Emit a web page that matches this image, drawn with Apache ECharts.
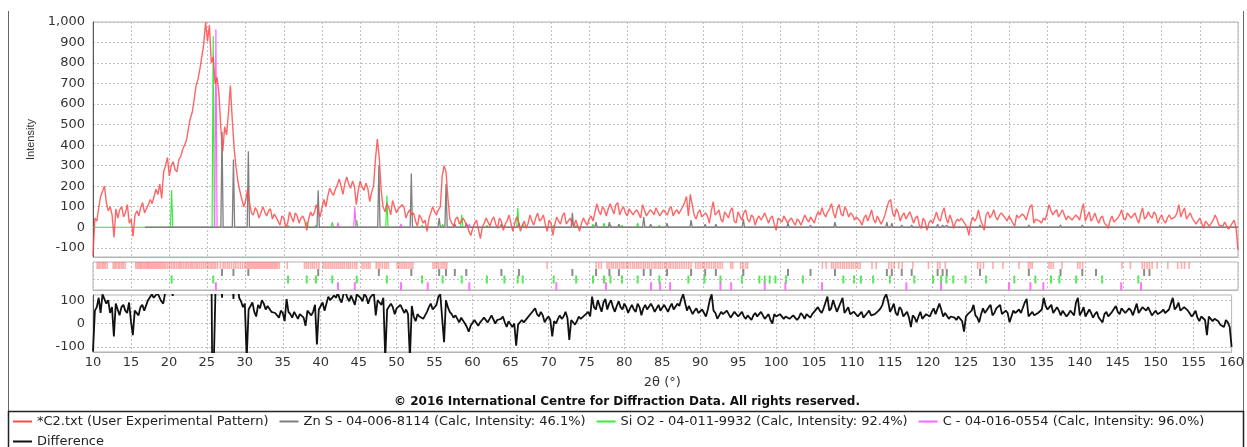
<!DOCTYPE html>
<html>
<head>
<meta charset="utf-8">
<title>C2 diffraction pattern</title>
<script src="https://cdn.jsdelivr.net/npm/echarts@6/dist/echarts.min.js"></script>
<style>
  html, body { margin: 0; padding: 0; background: #fff; }
  #chart { width: 1247px; height: 447px; }
</style>
</head>
<body>
<div id="chart"></div>
<script>
// observed pattern, 2θ from 10 to 160 in 0.25° steps
const twoThetaStart = 10;
const twoThetaStep = 0.25;
const observed = [
  -140,45,30,95,150,175,200,120,80,100,60,-50,90,45,85,100,50,70,110,20,       // 10
  40,-45,60,80,55,95,120,70,90,110,135,115,150,185,160,210,140,270,300,340,    // 15
  250,300,320,280,270,330,345,380,400,425,480,530,560,620,690,720,770,830,890,1000, // 20
  905,985,800,830,700,730,650,480,370,490,450,560,690,520,380,290,220,175,135,100, // 25
  130,185,120,70,60,95,80,45,70,100,75,55,80,90,40,65,70,30,10,55,             // 30
  45,0,20,75,50,25,70,55,20,45,55,30,-15,40,75,55,70,110,80,50,                // 35
  95,135,100,150,190,170,155,185,205,235,200,160,215,245,210,190,225,200,110,180, // 40
  225,195,180,215,190,125,170,200,330,430,340,180,100,75,115,95,60,130,100,70, // 45
  90,85,110,95,45,70,85,60,70,30,5,60,45,20,35,-20,40,70,100,75,               // 50
  60,85,100,250,300,270,140,40,20,5,40,50,15,30,45,25,10,-20,-40,-5,           // 55
  20,35,-10,-55,0,20,45,25,5,35,50,15,-5,45,30,-15,15,30,60,20,                // 60
  -20,20,50,25,-20,10,30,-5,20,60,30,10,45,70,30,40,60,15,-20,35,              // 65
  20,-40,15,50,30,15,55,70,15,30,45,20,5,35,40,-20,20,45,25,10,                // 70
  40,55,30,70,115,80,60,100,85,55,90,115,90,65,110,120,60,85,100,70,           // 75
  55,90,95,60,75,85,65,45,110,115,55,70,85,75,60,95,100,55,70,85,              // 80
  70,60,90,100,55,75,85,65,60,100,120,150,55,160,110,60,40,70,85,50,           // 85
  45,70,55,20,80,125,60,70,85,40,25,75,60,45,80,95,30,20,75,55,                // 90
  35,70,85,40,25,60,50,10,40,55,35,50,70,45,20,45,55,15,-15,45,                // 95
  35,25,55,50,20,35,45,25,10,40,30,10,35,60,40,25,50,45,20,55,                 // 100
  75,60,95,65,50,75,90,115,70,45,90,110,65,55,100,80,50,70,60,35,              // 105
  50,45,30,10,45,60,30,55,85,40,20,55,60,15,35,60,95,125,135,70,               // 110
  50,90,70,30,55,70,40,35,75,50,20,45,55,10,-5,45,30,-15,20,35,                // 115
  20,45,75,40,30,70,95,45,20,60,35,-5,25,40,30,45,30,15,0,-40,                 // 120
  20,50,30,45,85,40,15,-15,60,75,45,60,85,50,35,60,70,75,45,30,                // 125
  55,60,20,5,60,45,45,65,55,35,70,100,110,20,40,45,30,20,45,35,                // 130
  70,110,80,60,75,85,50,45,85,60,35,55,60,35,30,60,50,35,80,115,               // 135
  30,55,75,30,45,70,40,20,45,55,20,10,-5,35,55,25,35,45,60,85,                 // 140
  45,35,70,75,45,50,70,40,20,65,95,40,50,75,55,45,75,60,20,45,                 // 145
  60,35,20,45,60,40,35,50,70,110,50,75,95,40,55,70,45,40,15,30,                // 150
  45,20,-5,30,25,5,20,35,60,40,10,15,5,25,30,-10,-15,20,35,-5,                 // 155
  -110
];

// difference curve, same 2θ steps
const difference = [
  -120,55,70,110,45,125,130,85,100,45,70,-55,85,60,35,70,80,55,45,90,
  10,-50,55,60,35,70,80,55,60,100,95,125,110,105,130,125,95,85,130,140,
  160,190,118,210,220,260,300,330,360,400,440,480,520,560,600,650,700,760,820,900,
  850,900,700,-400,-400,300,500,300,110,400,420,500,600,300,105,250,200,110,95,70,
  85,-150,60,75,90,50,30,80,65,100,85,60,75,80,50,55,45,40,25,55,
  45,10,105,50,40,25,50,45,20,40,45,25,-10,55,60,35,50,80,-90,60,
  75,90,55,50,115,100,95,120,110,130,105,90,125,135,110,95,120,100,80,125,
  130,110,95,125,115,85,110,120,130,35,100,90,80,110,-150,60,55,85,70,40,
  65,70,80,85,45,60,40,-150,75,30,10,40,30,35,20,15,50,70,85,60,
  55,80,115,125,130,-80,100,70,50,40,25,35,20,5,25,20,0,-15,-35,-10,
  -5,15,10,-10,5,15,25,30,5,10,35,30,0,15,10,20,30,5,-15,10,
  5,-15,0,-95,-5,-10,15,5,0,25,30,45,50,65,40,30,50,35,5,20,
  30,15,-55,10,0,20,35,20,30,50,25,-70,15,20,-5,10,30,20,25,35,
  40,50,30,115,70,60,100,75,50,90,105,60,85,100,70,50,75,95,70,60,
  85,70,45,65,80,60,50,85,70,35,65,80,60,55,85,70,50,65,80,55,
  60,80,65,50,70,85,60,65,85,75,105,125,90,55,75,70,40,55,65,45,
  40,60,55,30,60,100,125,55,45,20,25,50,40,35,55,60,25,20,50,45,
  30,40,50,30,20,35,30,15,35,45,30,40,50,35,20,30,40,15,0,40,
  30,25,40,45,20,30,35,20,15,35,30,15,25,45,35,20,40,35,25,40,
  50,45,70,55,45,65,90,115,55,65,100,75,50,70,90,110,45,50,70,40,
  35,50,55,30,40,50,25,20,45,55,35,30,40,35,55,65,80,110,125,95,
  50,65,85,45,35,70,60,30,40,50,25,-15,35,25,5,30,50,20,15,40,
  35,30,50,65,40,35,85,60,30,45,50,20,30,35,25,15,30,35,10,-35,
  30,40,45,55,80,35,25,5,40,65,45,50,70,80,35,45,65,60,80,40,
  35,55,45,5,30,55,45,40,60,45,40,90,105,30,40,50,35,30,45,40,
  60,110,75,60,70,80,45,50,70,55,35,55,50,30,40,55,45,35,90,110,
  35,50,70,30,45,60,45,25,40,50,25,15,5,40,50,30,30,50,45,75,
  50,40,65,70,45,50,65,55,35,60,85,45,50,70,75,55,70,75,35,45,
  55,40,35,50,60,45,50,60,65,110,60,70,90,55,50,70,75,55,50,30,
  40,55,25,10,30,35,15,-50,30,20,10,20,20,10,-5,-10,-15,15,5,-15,
  -100
];

// reference phases: peak positions (2θ) and calculated heights
const znsPeaks = [26.9, 28.4, 30.35, 39.5, 47.45, 51.7, 55.35, 56.25, 57.4, 58.9, 63.5, 65.8, 72.8, 75.9,
  77.65, 78.9, 82.15, 83.05, 85.2, 88.35, 90.2, 91.6, 95.2, 101.05, 104.0, 107.2, 114.0, 114.65, 115.95,
  117.25, 120.65, 121.3, 121.85, 126.2, 132.6, 136.75, 139.6, 141.4, 147.7, 148.4];
const znsHeights = [465, 330, 370, 180, 300, 262, 45, 210, 15, 20, 15, 20, 70, 25,
  25, 15, 50, 15, 20, 35, 15, 15, 40, 20, 10, 25, 25, 20, 10,
  10, 15, 10, 10, 10, 10, 10, 10, 5, 8, 5];

const sio2Peaks = [20.3, 25.75, 35.55, 38.0, 39.2, 41.35, 44.55, 48.5, 53.1, 55.8, 58.3, 61.6, 63.9, 65.65,
  66.3, 70.35, 73.3, 75.5, 76.95, 77.8, 79.3, 81.35, 84.2, 88.0, 90.1, 92.2, 95.0, 97.3, 98.0, 98.65,
  99.4, 100.8, 103.0, 108.3, 109.7, 110.6, 112.2, 114.4, 117.6, 120.05, 121.1, 121.8, 122.7, 124.3,
  127.0, 130.7, 133.45, 135.5, 136.6, 138.8, 142.2, 146.95];
const sio2Heights = [180, 930, 10, 27, 10, 25, 35, 155, 10, 15, 60, 10, 10, 95,
  15, 10, 10, 15, 20, 10, 10, 20, 10, 8, 8, 6, 8, 6, 5, 6,
  5, 6, 5, 6, 5, 5, 6, 8, 5, 5, 5, 6, 5, 5,
  5, 5, 5, 5, 4, 4, 4, 4];

const carbonPeaks = [26.1, 42.1, 44.3, 50.35, 53.85, 59.3, 70.7, 77.2, 83.1, 84.3, 85.6, 92.2, 93.6, 98.0,
  100.7, 105.5, 116.55, 121.1, 130.0, 132.8, 134.5, 144.7, 147.3];
const carbonHeights = [965, 22, 100, 16, 5, 16, 5, 5, 10, 5, 5, 5, 5, 5,
  8, 5, 8, 5, 4, 4, 4, 3, 3];

// peaks found in the experimental pattern (top row of the tick strip)
const observedTicks = [10.55, 10.75, 10.95, 11.2, 11.4, 11.6, 11.85,
  12.65, 12.85, 13.05, 13.3, 13.5, 13.75, 13.95, 14.2,
  15.6, 15.8, 16.0, 16.2, 16.35, 16.55, 16.75, 16.95, 17.15, 17.3, 17.5, 17.7, 17.9, 18.1, 18.3, 18.5,
  18.7, 18.9, 19.1, 19.3, 19.5, 19.75, 20.0, 20.25, 20.5, 20.7, 20.95, 21.2, 21.4, 21.6, 21.85, 22.1,
  22.3, 22.55, 22.8, 23.0, 23.25, 23.5, 23.7, 23.95, 24.2, 24.45, 24.7, 24.95, 25.15, 25.4, 25.6, 25.85,
  26.05, 26.3,
  26.7, 27.05, 27.3, 27.6, 27.85, 28.15, 28.45, 28.7, 29.0, 29.3, 29.6, 29.9, 30.15, 30.35, 30.55, 30.75,
  30.95, 31.15, 31.35, 31.55, 31.75, 31.95, 32.15, 32.35, 32.55, 32.75, 32.95, 33.15, 33.35, 33.55, 33.75,
  33.95, 34.15, 34.4,
  35.45,
  37.7, 37.95, 38.2, 38.5, 38.75, 39.0, 39.3, 39.6,
  40.15, 40.4, 40.65, 40.9, 41.15, 41.4, 41.65, 41.9, 42.15, 42.4, 42.65, 42.9, 43.2, 43.45, 43.7, 44.0,
  44.3, 44.55,
  45.25, 45.5, 45.8, 46.05, 46.3, 47.1, 47.35, 47.6, 47.9, 48.2, 48.45, 48.7,
  49.85, 50.1, 50.35, 50.6, 50.85, 51.1, 51.4, 51.65, 51.9,
  54.55, 54.8, 55.05, 55.3, 55.6, 55.85, 56.1, 56.35,
  69.5, 75.9, 76.25, 76.6,
  77.35, 77.6, 77.9, 78.15, 78.45, 78.7, 79.0, 79.3, 79.55, 79.85, 80.1, 80.4, 80.7, 80.95, 81.25, 81.5,
  81.8, 82.1, 82.35, 82.65, 82.9, 83.2, 83.5, 83.75, 84.05, 84.3, 84.6, 84.9, 85.15, 85.45, 85.7, 86.0,
  86.3, 86.55, 86.85, 87.15, 87.45, 87.75, 88.05, 88.35, 88.95, 89.25, 89.55, 89.85, 90.1, 90.4, 90.7,
  91.0, 91.3, 91.55, 91.85, 92.15, 92.45,
  93.55, 93.8, 94.85, 95.15, 95.5, 95.75,
  105.55, 106.05, 106.75, 107.0, 107.3, 107.6, 107.9, 108.2, 108.45, 108.75, 109.05, 109.35, 109.6,
  109.9, 110.2, 110.5,
  112.05, 112.6, 114.25, 114.6, 114.95, 115.55, 116.0,
  117.4, 119.45, 120.65, 120.95, 121.65,
  125.9, 126.25, 126.65, 127.9, 129.2, 131.3, 132.55, 132.8, 133.05, 135.25, 135.5, 135.8, 136.95,
  139.0, 139.3, 139.65, 144.8, 145.9, 147.45, 147.75, 148.1, 148.4, 148.75, 149.4, 150.8, 152.1,
  152.6, 153.0, 153.6];

const intensityTicks = [-100, 0, 100, 200, 300, 400, 500, 600, 700, 800, 900, 1000];
const differenceTicks = [-100, 0, 100];

const obsName = '*C2.txt (User Experimental Pattern)';
const znsName = 'Zn S - 04-006-8114 (Calc, Intensity: 46.1%)';
const sio2Name = 'Si O2 - 04-011-9932 (Calc, Intensity: 92.4%)';
const carbonName = 'C - 04-016-0554 (Calc, Intensity: 96.0%)';
const diffName = 'Difference';

const RED = '#ff4a4a';
const GRAY = '#7f7f7f';
const GREEN = '#3fe83f';
const PINK = '#ff66ff';
const GRIDLINE = '#c0c0c0';
const FRAME = '#b4b4b4';

// narrow triangle per peak on a zero baseline
function profile(peaks, heights, start) {
  const d = [[start, 0]];
  peaks.forEach((p, i) => {
    d.push([p - 0.15, 0], [p, heights[i]], [p + 0.15, 0]);
  });
  d.push([160, 0]);
  return d;
}

function onGrid(values) {
  return values.map((v, i) => [twoThetaStart + i * twoThetaStep, v]);
}

function labelFont() {
  return { fontFamily: 'DejaVu Sans', fontSize: 13, color: '#333' };
}

function dashed() {
  return { show: true, lineStyle: { type: [2, 2], color: GRIDLINE, width: 1 } };
}

function xAxisFor(grid, labels) {
  return {
    type: 'value', gridIndex: grid, min: 10, max: 160, interval: 5,
    axisLine: { show: true, onZero: false, lineStyle: { color: FRAME, width: 1 } },
    axisTick: { show: false },
    axisLabel: labels ? Object.assign({ margin: 4 }, labelFont()) : { show: false },
    splitLine: dashed()
  };
}

function stripSeries(name, ticks, row, color, w, h, opacity) {
  return {
    name: name, type: 'scatter', xAxisIndex: 1, yAxisIndex: 1, silent: true,
    symbol: 'rect', symbolSize: [w, h],
    itemStyle: { color: color, opacity: opacity },
    data: ticks.map(t => [t, row])
  };
}

const chart = echarts.init(document.getElementById('chart'));

chart.setOption({
  animation: false,
  grid: [
    { left: 93, right: 9, top: 22, height: 235, show: true, borderColor: FRAME },
    { left: 93, right: 9, top: 262, height: 28, show: true, borderColor: FRAME },
    { left: 93, right: 9, top: 295, height: 57, show: true, borderColor: FRAME }
  ],
  xAxis: [
    xAxisFor(0, false),
    xAxisFor(1, false),
    Object.assign(xAxisFor(2, true), {
      name: '2θ (°)', nameLocation: 'middle', nameGap: 24, nameTextStyle: labelFont()
    })
  ],
  yAxis: [
    {
      type: 'value', gridIndex: 0, min: -145, max: 1000,
      axisTick: { show: false, customValues: intensityTicks },
      axisLabel: Object.assign({ margin: 8, customValues: intensityTicks,
        formatter: v => v.toLocaleString('en-US') }, labelFont()),
      splitLine: dashed(),
      name: 'Intensity', nameLocation: 'middle', nameGap: 56, nameRotate: 90,
      nameTextStyle: { fontFamily: 'Liberation Sans', fontSize: 11, color: '#333' }
    },
    { type: 'value', gridIndex: 1, min: 0, max: 28, show: false },
    {
      type: 'value', gridIndex: 2, min: -122, max: 122,
      axisTick: { show: false, customValues: differenceTicks },
      axisLabel: Object.assign({ margin: 8, customValues: differenceTicks }, labelFont()),
      splitLine: dashed()
    }
  ],
  legend: [
    {
      data: [obsName, znsName, sio2Name, carbonName],
      left: 13, top: 415, padding: 0, itemGap: 11, itemWidth: 19, itemHeight: 2,
      icon: 'rect', selectedMode: false, textStyle: { fontFamily: 'DejaVu Sans', fontSize: 13, color: '#222' }
    },
    {
      data: [diffName],
      left: 13, top: 435, padding: 0, itemWidth: 19, itemHeight: 2,
      icon: 'rect', selectedMode: false, textStyle: { fontFamily: 'DejaVu Sans', fontSize: 13, color: '#222' }
    }
  ],
  graphic: [
    { type: 'line', silent: true, shape: { x1: 8.5, y1: 11, x2: 8.5, y2: 411 }, style: { stroke: '#666', lineWidth: 1 } },
    { type: 'line', silent: true, shape: { x1: 1243.5, y1: 11, x2: 1243.5, y2: 411 }, style: { stroke: '#666', lineWidth: 1 } },
    { type: 'rect', silent: true, shape: { x: 8.5, y: 411.5, width: 1235, height: 40 },
      style: { fill: 'none', stroke: '#222', lineWidth: 1.5 } },
    { type: 'text', silent: true, x: 627, y: 402,
      style: { text: '© 2016 International Centre for Diffraction Data. All rights reserved.',
        font: 'bold 12px "DejaVu Sans"', fill: '#111', align: 'center', verticalAlign: 'middle' } }
  ],
  series: [
    {
      // invisible helper that carries the dashed middle line of the tick strip
      type: 'line', xAxisIndex: 1, yAxisIndex: 1, silent: true, symbol: 'none',
      lineStyle: { opacity: 0 }, data: [[10, 0], [160, 0]],
      markLine: {
        silent: true, symbol: 'none', label: { show: false },
        lineStyle: { type: [2, 2], color: GRIDLINE, width: 1 },
        data: [{ yAxis: 11 }]
      }
    },
    {
      name: sio2Name, type: 'line', xAxisIndex: 0, yAxisIndex: 0, symbol: 'none', color: GREEN,
      lineStyle: { color: GREEN, width: 1.2 }, data: profile(sio2Peaks, sio2Heights, 10)
    },
    {
      name: carbonName, type: 'line', xAxisIndex: 0, yAxisIndex: 0, symbol: 'none', color: PINK,
      lineStyle: { color: PINK, width: 1.2 }, data: profile(carbonPeaks, carbonHeights, 20)
    },
    {
      name: znsName, type: 'line', xAxisIndex: 0, yAxisIndex: 0, symbol: 'none', color: GRAY,
      lineStyle: { color: GRAY, width: 1.3 }, data: profile(znsPeaks, znsHeights, 16.8)
    },
    {
      name: obsName, type: 'line', xAxisIndex: 0, yAxisIndex: 0, symbol: 'none', color: RED,
      lineStyle: { color: RED, width: 1.4, opacity: 0.85 }, data: onGrid(observed)
    },
    stripSeries('obs ticks', observedTicks, 24.5, RED, 1.6, 7, 0.45),
    stripSeries('zns ticks', znsPeaks, 17.5, GRAY, 2, 7, 0.9),
    stripSeries('sio2 ticks', sio2Peaks, 10.5, GREEN, 2, 8, 0.9),
    stripSeries('c ticks', carbonPeaks, 3.8, PINK, 2, 8, 0.9),
    {
      name: diffName, type: 'line', xAxisIndex: 2, yAxisIndex: 2, symbol: 'none', color: '#111',
      lineStyle: { color: '#111', width: 1.8 }, data: onGrid(difference)
    }
  ]
});
</script>
</body>
</html>
